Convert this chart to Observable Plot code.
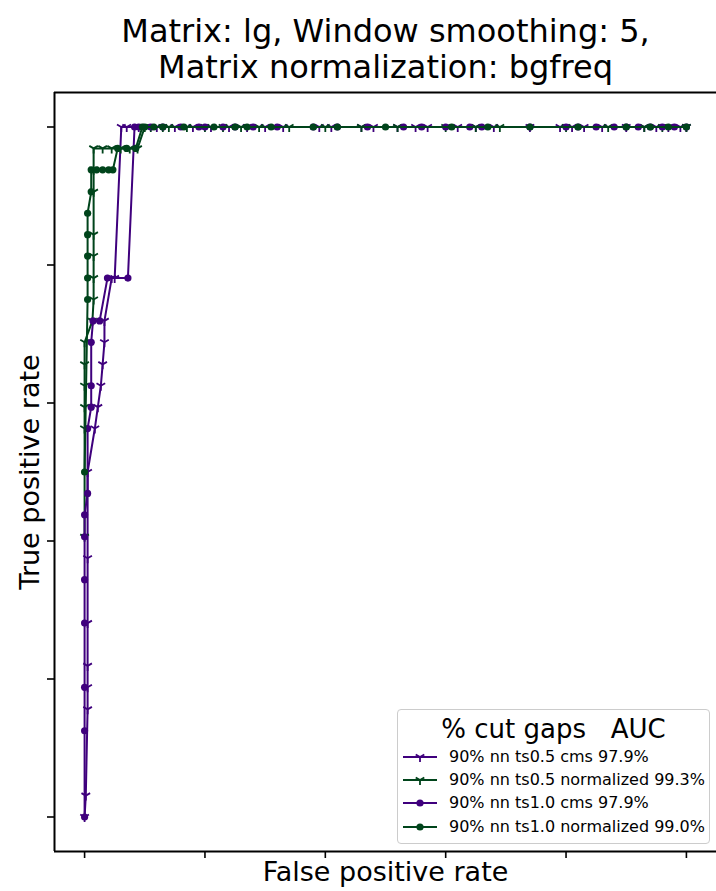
<!DOCTYPE html>
<html>
<head>
<meta charset="utf-8">
<script src="https://cdn.jsdelivr.net/npm/d3@7"></script>
<script src="https://cdn.jsdelivr.net/npm/@observablehq/plot@0.6"></script>
<style>
  body { margin: 0; background: #fff; font-family: "DejaVu Sans", sans-serif; }
  #wrap { position: relative; width: 716px; height: 891px; overflow: hidden; background: #fff; }
  #title { position: absolute; left: 54px; width: 663px; top: 13px; text-align: center; font-size: 32px; line-height: 36px; color: #000; white-space: nowrap; }
  #chart { position: absolute; left: 0; top: 88px; }
  #legend { position: absolute; left: 397px; top: 709px; width: 313px; height: 135px; box-sizing: border-box;
            border: 1px solid #cccccc; border-radius: 4px; background: rgba(255,255,255,0.85); }
  #legend .lt { position: absolute; left: 0; width: 100%; top: 3px; text-align: center; font-size: 26px; line-height: 32px; white-space: pre; }
  #legend .row { position: absolute; left: 4px; height: 20px; font-size: 16px; line-height: 20px; white-space: nowrap; }
  #legend .row svg { position: absolute; left: 0; top: 2px; }
  #legend .row span { position: absolute; left: 47px; top: 0; }
</style>
</head>
<body>
<div id="wrap">
  <div id="title"></div>
  <div id="chart"></div>
  <div id="legend"></div>
</div>
<script>
// ---- Data ----
const titleLines = ["Matrix: lg, Window smoothing: 5,", "Matrix normalization: bgfreq"];
const xLabel = "False positive rate";
const yLabel = "True positive rate";
const legendTitle = "% cut gaps   AUC";
const seriesLabels = [
  "90% nn ts0.5 cms 97.9%",
  "90% nn ts0.5 normalized 99.3%",
  "90% nn ts1.0 cms 97.9%",
  "90% nn ts1.0 normalized 99.0%"
];
const xTicks = [0, 0.2, 0.4, 0.6, 0.8, 1.0];
const yTicks = [0, 0.2, 0.4, 0.6, 0.8, 1.0];

// [false positive rate, true positive rate]
const rocTs05Cms = [[0,0],[0.002,0.031],[0.005,0.156],[0.005,0.188],[0.005,0.219],[0.005,0.281],[0.005,0.375],[0.005,0.5],
  [0.017,0.563],[0.022,0.594],[0.027,0.625],[0.03,0.656],[0.033,0.688],[0.033,0.719],[0.045,0.781],[0.05,0.781],
  [0.061,1],[0.07,1],[0.09,1],[0.12,1],[0.15,1],[0.18,1],[0.21,1],[0.24,1],[0.27,1],[0.3,1],[0.33,1],[0.39,1],[0.41,1],
  [0.46,1],[0.48,1],[0.52,1],[0.55,1],[0.57,1],[0.62,1],[0.65,1],[0.68,1],[0.74,1],[0.79,1],[0.81,1],[0.83,1],[0.86,1],
  [0.9,1],[0.93,1],[0.95,1],[0.97,1],[0.99,1],[1,1]];
const rocTs05Norm = [[0,0.406],[0,0.563],[0,0.594],[0,0.625],[0,0.656],[0,0.688],[0.013,0.719],[0.015,0.75],[0.015,0.781],
  [0.015,0.813],[0.015,0.844],[0.015,0.906],[0.015,0.938],[0.015,0.969],[0.03,0.969],[0.045,0.969],[0.06,0.969],[0.075,0.969],
  [0.088,0.969],[0.1,1],[0.11,1],[0.13,1],[0.14,1],[0.17,1],[0.2,1],[0.23,1],[0.26,1],[0.29,1],[0.34,1],[0.4,1],[0.46,1],
  [0.52,1],[0.6,1],[0.65,1],[0.69,1],[0.8,1],[0.87,1],[0.93,1],[0.96,1],[1,1]];
const rocTs10Cms = [[0,0],[0,0.125],[0,0.188],[0,0.281],[0,0.344],[0,0.406],[0,0.438],[0.005,0.469],[0.005,0.563],
  [0.011,0.594],[0.011,0.625],[0.011,0.688],[0.014,0.719],[0.025,0.719],[0.038,0.781],[0.072,0.781],[0.083,1],[0.09,1],
  [0.11,1],[0.13,1],[0.16,1],[0.19,1],[0.2,1],[0.23,1],[0.25,1],[0.28,1],[0.32,1],[0.38,1],[0.42,1],[0.47,1],[0.53,1],
  [0.56,1],[0.6,1],[0.64,1],[0.66,1],[0.74,1],[0.8,1],[0.82,1],[0.85,1],[0.88,1],[0.9,1],[0.92,1],[0.94,1],[0.96,1],
  [0.98,1],[1,1]];
const rocTs10Norm = [[0,0.5],[0.005,0.75],[0.005,0.781],[0.005,0.813],[0.005,0.844],[0.005,0.875],[0.011,0.906],
  [0.011,0.938],[0.02,0.938],[0.03,0.938],[0.04,0.938],[0.047,0.938],[0.055,0.969],[0.07,0.969],[0.085,0.969],[0.096,1],
  [0.1,1],[0.115,1],[0.13,1],[0.165,1],[0.215,1],[0.25,1],[0.27,1],[0.31,1],[0.38,1],[0.42,1],[0.5,1],[0.61,1],[0.67,1],
  [0.74,1],[0.82,1],[0.9,1],[0.94,1],[0.97,1],[1,1]];

// ---- Styles ----
const PURPLE = "#3f007d", GREEN = "#00441b";
const triDown = {
  draw(ctx, size) {
    const r = Math.sqrt(size / Math.PI);
    ctx.moveTo(0, 0); ctx.lineTo(0, r);
    ctx.moveTo(0, 0); ctx.lineTo(-r * 0.866, -r * 0.5);
    ctx.moveTo(0, 0); ctx.lineTo(r * 0.866, -r * 0.5);
  }
};
const series = [
  {label: seriesLabels[0], data: rocTs05Cms, color: PURPLE, marker: "tri"},
  {label: seriesLabels[1], data: rocTs05Norm, color: GREEN, marker: "tri"},
  {label: seriesLabels[2], data: rocTs10Cms, color: PURPLE, marker: "circle"},
  {label: seriesLabels[3], data: rocTs10Norm, color: GREEN, marker: "circle"}
];

document.getElementById("title").innerHTML = titleLines.map(t => `<div>${t}</div>`).join("");

const xDomain = [-0.05, 1.05], yDomain = [-0.05, 1.05];
const marks = [];
for (const s of series) {
  marks.push(Plot.line(s.data, {x: d => d[0], y: d => d[1], stroke: s.color, strokeWidth: 2}));
  if (s.marker === "tri") {
    marks.push(Plot.dot(s.data, {x: d => d[0], y: d => d[1], symbol: triDown, r: 5, stroke: s.color, strokeWidth: 1.8, fill: "none"}));
  } else {
    marks.push(Plot.dot(s.data, {x: d => d[0], y: d => d[1], r: 3.6, fill: s.color, stroke: "none"}));
  }
}
marks.push(Plot.ruleY([yDomain[0], yDomain[1]], {stroke: "#000", strokeWidth: 2}));
marks.push(Plot.ruleX([xDomain[0]], {stroke: "#000", strokeWidth: 2}));
marks.push(Plot.axisX({ticks: xTicks, tickFormat: () => "", tickSize: 7, strokeWidth: 1.6, label: null}));
marks.push(Plot.axisY({ticks: yTicks, tickFormat: () => "", tickSize: 7, strokeWidth: 1.6, label: null}));
marks.push(Plot.text([xLabel], {frameAnchor: "bottom", dy: 21, fontSize: 27, textAnchor: "middle", lineAnchor: "middle", fill: "#000"}));
marks.push(Plot.text([yLabel], {frameAnchor: "left", dx: -24, rotate: -90, fontSize: 27, textAnchor: "middle", lineAnchor: "middle", fill: "#000"}));

const chart = Plot.plot({
  width: 716,
  height: 803,
  marginLeft: 54,
  marginRight: 0,
  marginTop: 4,
  marginBottom: 40,
  style: {fontFamily: "DejaVu Sans", background: "white", color: "#000", overflow: "visible"},
  x: {domain: xDomain},
  y: {domain: yDomain},
  marks
});
document.getElementById("chart").appendChild(chart);

// ---- Legend ----
const legend = document.getElementById("legend");
let html = `<div class="lt">${legendTitle}</div>`;
const rowTops = [37, 60, 83, 107];
series.forEach((s, i) => {
  const mk = s.marker === "tri"
    ? `<path d="M18,8 L18,13 M18,8 L13.7,5.5 M18,8 L22.3,5.5" stroke="${s.color}" stroke-width="1.8" fill="none"/>`
    : `<circle cx="18" cy="8" r="3.6" fill="${s.color}"/>`;
  html += `<div class="row" style="top:${rowTops[i]}px"><svg width="36" height="16"><line x1="1" y1="8" x2="35" y2="8" stroke="${s.color}" stroke-width="2"/>${mk}</svg><span>${s.label}</span></div>`;
});
legend.innerHTML = html;
</script>
</body>
</html>
